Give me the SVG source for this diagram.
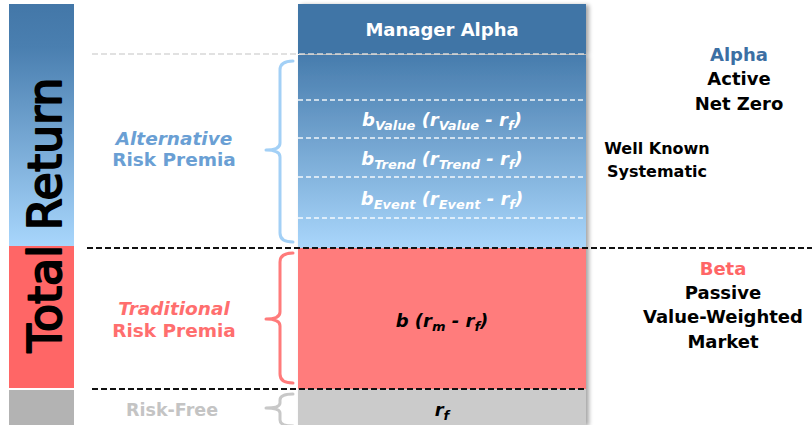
<svg xmlns="http://www.w3.org/2000/svg" width="812" height="425" viewBox="0 0 812 425">
  <defs>
    <linearGradient id="barBlue" x1="0" y1="4" x2="0" y2="246" gradientUnits="userSpaceOnUse">
      <stop offset="0" stop-color="#4377a8"/>
      <stop offset="0.18" stop-color="#4a7fb0"/>
      <stop offset="1" stop-color="#a8d6fc"/>
    </linearGradient>
    <linearGradient id="boxBlue" x1="0" y1="55" x2="0" y2="248" gradientUnits="userSpaceOnUse">
      <stop offset="0" stop-color="#477cad"/>
      <stop offset="1" stop-color="#a9d6fb"/>
    </linearGradient>
    <filter id="shadow" x="-5%" y="-5%" width="115%" height="115%">
      <feGaussianBlur in="SourceAlpha" stdDeviation="2"/>
      <feOffset dx="3" dy="1" result="blur"/>
      <feComponentTransfer><feFuncA type="linear" slope="0.35"/></feComponentTransfer>
      <feMerge><feMergeNode/><feMergeNode in="SourceGraphic"/></feMerge>
    </filter>
  </defs>
  <style>
    .lbl { font-family: "DejaVu Sans", "Liberation Sans", sans-serif; font-weight: bold; text-anchor: middle; }
    .math { font-family: "DejaVu Sans", "Liberation Sans", sans-serif; font-weight: bold; font-style: oblique; font-size: 18px; text-anchor: middle; }
    .sub { font-size: 13px; }
    .brace { fill: none; stroke-width: 3; stroke-linecap: round; stroke-linejoin: round; }
    .dash-dark { stroke: #111; stroke-width: 2; stroke-dasharray: 6 3; fill: none; }
    .dash-light { stroke: #ffffff; stroke-width: 1.5; stroke-dasharray: 5 3; fill: none; opacity: 0.9; }
  </style>

  <rect width="812" height="425" fill="#ffffff"/>

  <!-- Total Return side bar -->
  <g id="total-return-bar">
    <rect x="9" y="4" width="65" height="242" fill="url(#barBlue)"/>
    <rect x="9" y="246" width="65" height="142" fill="#ff6666"/>
    <rect x="9" y="390" width="65" height="35" fill="#b3b3b3"/>
    <text transform="translate(61,215) rotate(-90)" text-anchor="middle" font-family="DejaVu Sans, Liberation Sans, sans-serif" font-size="46" fill="#000" stroke="#000" stroke-width="2" stroke-linejoin="round">Total Return</text>
  </g>

  <!-- stacked return column -->
  <g id="return-column" filter="url(#shadow)">
    <rect x="298" y="55" width="288" height="193" fill="url(#boxBlue)"/>
    <rect x="298" y="248" width="288" height="141" fill="#ff7b7b"/>
    <rect x="298" y="389" width="288" height="36" fill="#cbcbcb"/>
    <rect x="298" y="4" width="288" height="50" fill="#3f75a6"/>
  </g>

  <g id="manager-alpha">
    <text class="lbl" x="442" y="36" font-size="18" fill="#ffffff">Manager Alpha</text>
  </g>

  <g id="alternative-premia">
    <line class="dash-light" x1="298" y1="100" x2="586" y2="100"/>
    <line class="dash-light" x1="298" y1="138" x2="586" y2="138"/>
    <line class="dash-light" x1="298" y1="177" x2="586" y2="177"/>
    <line class="dash-light" x1="298" y1="218" x2="586" y2="218"/>
    <text class="math" x="442" y="126" fill="#ffffff">b<tspan class="sub" dy="4">Value</tspan><tspan dy="-4"> (r</tspan><tspan class="sub" dy="4">Value</tspan><tspan dy="-4"> - r</tspan><tspan class="sub" dy="4">f</tspan><tspan dy="-4">)</tspan></text>
    <text class="math" x="442" y="165" fill="#ffffff">b<tspan class="sub" dy="4">Trend</tspan><tspan dy="-4"> (r</tspan><tspan class="sub" dy="4">Trend</tspan><tspan dy="-4"> - r</tspan><tspan class="sub" dy="4">f</tspan><tspan dy="-4">)</tspan></text>
    <text class="math" x="442" y="205" fill="#ffffff">b<tspan class="sub" dy="4">Event</tspan><tspan dy="-4"> (r</tspan><tspan class="sub" dy="4">Event</tspan><tspan dy="-4"> - r</tspan><tspan class="sub" dy="4">f</tspan><tspan dy="-4">)</tspan></text>
  </g>

  <g id="traditional-premia">
    <text class="math" x="442" y="327" fill="#000000">b (r<tspan class="sub" dy="4">m</tspan><tspan dy="-4"> - r</tspan><tspan class="sub" dy="4">f</tspan><tspan dy="-4">)</tspan></text>
  </g>

  <g id="risk-free">
    <text class="math" x="442" y="416" fill="#000000">r<tspan class="sub" dy="4">f</tspan></text>
  </g>

  <!-- dividers between layers -->
  <g id="connectors">
    <line x1="92" y1="54" x2="586" y2="54" stroke="#d8d8d8" stroke-width="1.5" stroke-dasharray="6 3"/>
    <line class="dash-dark" x1="87" y1="248" x2="812" y2="248"/>
    <line class="dash-dark" x1="92" y1="389" x2="586" y2="389"/>
  </g>

  <!-- braces -->
  <g id="brace-alternative">
    <path class="brace" stroke="#a3d0f6" d="M293 61 Q280 61 280 70 L280 143 Q280 150 266 150 Q280 150 280 157 L280 233 Q280 242 293 242"/>
  </g>
  <g id="brace-traditional">
    <path class="brace" stroke="#ff7b7b" d="M293 253 Q280 253 280 262 L280 312 Q280 319 266 319 Q280 319 280 326 L280 374 Q280 383 293 383"/>
  </g>
  <g id="brace-riskfree">
    <path class="brace" stroke="#c8c8c8" d="M293 394 Q280 394 280 400 L280 403 Q280 408 266 408 Q280 408 280 413 L280 420 Q280 426 293 426"/>
  </g>

  <!-- left labels -->
  <g id="label-alternative">
    <text class="lbl" x="174" y="145" font-size="18.5" fill="#6a9fd4" font-style="oblique">Alternative</text>
    <text class="lbl" x="174" y="166" font-size="18.5" fill="#6a9fd4">Risk Premia</text>
  </g>
  <g id="label-traditional">
    <text class="lbl" x="174" y="315" font-size="18.5" fill="#ff6e6e" font-style="oblique">Traditional</text>
    <text class="lbl" x="174" y="337" font-size="18.5" fill="#ff6e6e">Risk Premia</text>
  </g>
  <g id="label-riskfree">
    <text class="lbl" x="172" y="416" font-size="17.5" fill="#c4c4c4">Risk-Free</text>
  </g>

  <!-- right labels -->
  <g id="label-alpha">
    <text class="lbl" x="739" y="61" font-size="18" fill="#3c6fa3">Alpha</text>
    <text class="lbl" x="739" y="85" font-size="18" fill="#000">Active</text>
    <text class="lbl" x="739" y="110" font-size="18" fill="#000">Net Zero</text>
  </g>
  <g id="label-systematic">
    <text class="lbl" x="657" y="154" font-size="16" fill="#000">Well Known</text>
    <text class="lbl" x="657" y="177" font-size="16" fill="#000">Systematic</text>
  </g>
  <g id="label-beta">
    <text class="lbl" x="723" y="275" font-size="18" fill="#ff6666">Beta</text>
    <text class="lbl" x="723" y="299" font-size="18" fill="#000">Passive</text>
    <text class="lbl" x="723" y="323" font-size="18" fill="#000">Value-Weighted</text>
    <text class="lbl" x="723" y="348" font-size="18" fill="#000">Market</text>
  </g>
</svg>
